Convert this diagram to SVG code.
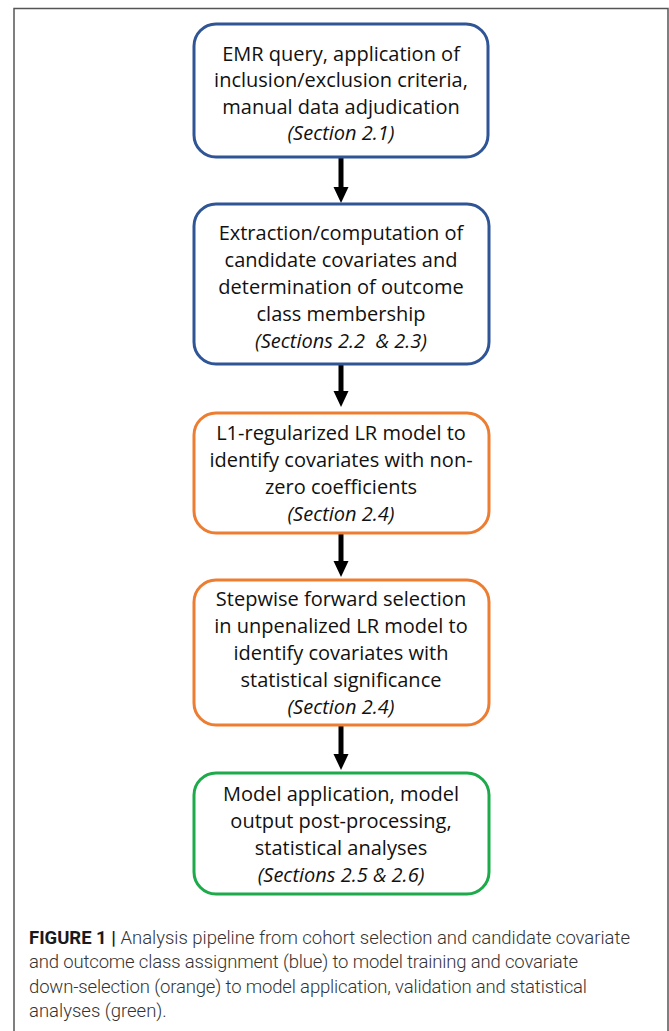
<svg xmlns="http://www.w3.org/2000/svg" width="669" height="1031" viewBox="0 0 669 1031">
<style>
.box{fill:#fff;stroke-width:3}
.blue{stroke:#2f5597}
.orange{stroke:#ed7d31}
.green{stroke:#1daa4a}
.t{font-family:"Open Sans","Noto Sans",sans-serif;font-size:20px;fill:#111;text-anchor:middle}
.i{font-style:italic}
.cap{font-family:Roboto,"Liberation Sans",Arial,sans-serif;font-size:18.5px;font-weight:300;fill:#333}
.b{font-weight:bold;fill:#1a1a1a}
.conn{stroke:#000;stroke-width:5;fill:none}
</style>
<defs>
<marker id="ah" markerUnits="userSpaceOnUse" markerWidth="16" markerHeight="16" refX="1" refY="8" orient="auto">
<path d="M0,0.5 L16,8 L0,15.5 z" fill="#000"/>
</marker>
</defs>
<rect x="0" y="0" width="669" height="1031" fill="#fff"/>
<rect x="14" y="8.5" width="654" height="1040" fill="none" stroke="#555" stroke-width="1.5"/>
<g id="connectors">
<line class="conn" x1="341" y1="157" x2="341" y2="188" marker-end="url(#ah)"/>
<line class="conn" x1="341" y1="364" x2="341" y2="392" marker-end="url(#ah)"/>
<line class="conn" x1="341" y1="533" x2="341" y2="562" marker-end="url(#ah)"/>
<line class="conn" x1="341" y1="725" x2="341" y2="755" marker-end="url(#ah)"/>
</g>
<g id="n1">
<rect class="box blue" x="194" y="24" width="294" height="133" rx="22"/>
<text class="t" x="341" y="61">EMR query, application of</text>
<text class="t" x="341" y="87">inclusion/exclusion criteria,</text>
<text class="t" x="341" y="114">manual data adjudication</text>
<text class="t i" x="341" y="140">(Section 2.1)</text>
</g>
<g id="n2">
<rect class="box blue" x="194" y="204" width="295" height="160" rx="22"/>
<text class="t" x="341" y="240">Extraction/computation of</text>
<text class="t" x="341" y="267">candidate covariates and</text>
<text class="t" x="341" y="294">determination of outcome</text>
<text class="t" x="341" y="321">class membership</text>
<text class="t i" x="341" y="348">(Sections 2.2&#160; &amp; 2.3)</text>
</g>
<g id="n3">
<rect class="box orange" x="194" y="413" width="295" height="120" rx="22"/>
<text class="t" x="341" y="440">L1-regularized LR model to</text>
<text class="t" x="341" y="467">identify covariates with non-</text>
<text class="t" x="341" y="494">zero coefficients</text>
<text class="t i" x="341" y="521">(Section 2.4)</text>
</g>
<g id="n4">
<rect class="box orange" x="194" y="580" width="295" height="145" rx="22"/>
<text class="t" x="341" y="606">Stepwise forward selection</text>
<text class="t" x="341" y="633">in unpenalized LR model to</text>
<text class="t" x="341" y="660">identify covariates with</text>
<text class="t" x="341" y="687">statistical significance</text>
<text class="t i" x="341" y="714">(Section 2.4)</text>
</g>
<g id="n5">
<rect class="box green" x="194" y="773" width="295" height="121" rx="22"/>
<text class="t" x="341" y="801">Model application, model</text>
<text class="t" x="341" y="828">output post-processing,</text>
<text class="t" x="341" y="855">statistical analyses</text>
<text class="t i" x="341" y="882">(Sections 2.5 &amp; 2.6)</text>
</g>
<g id="caption">
<text class="cap" x="29" y="944" textLength="601"><tspan class="b">FIGURE 1 |</tspan> Analysis pipeline from cohort selection and candidate covariate</text>
<text class="cap" x="29" y="968" textLength="549">and outcome class assignment (blue) to model training and covariate</text>
<text class="cap" x="29" y="993" textLength="558">down-selection (orange) to model application, validation and statistical</text>
<text class="cap" x="29" y="1017">analyses (green).</text>
</g>
</svg>
